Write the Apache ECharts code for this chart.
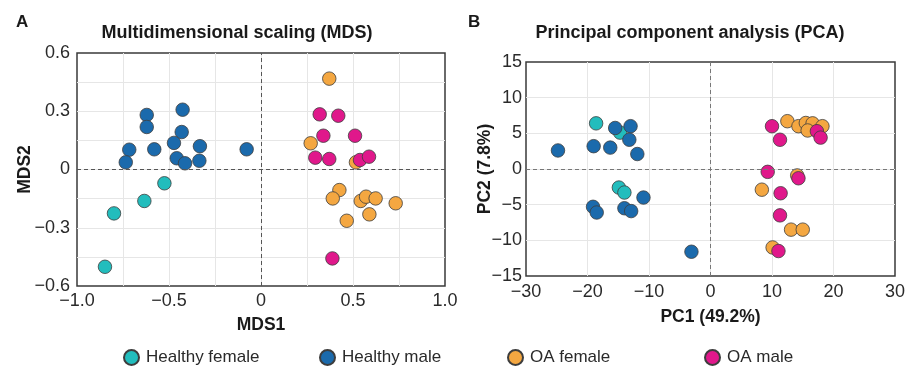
<!DOCTYPE html>
<html>
<head>
<meta charset="utf-8">
<script src="https://cdn.jsdelivr.net/npm/echarts@6/dist/echarts.min.js"></script>
<style>
html,body{margin:0;padding:0;background:#fff;}
#chart{width:910px;height:369px;}
</style>
</head>
<body>
<div id="chart"></div>
<script>
// ---- Data ----
var groupNames = ['Healthy female', 'Healthy male', 'OA female', 'OA male'];
var groupColors = ['#22bdbd', '#1b6aac', '#f4a741', '#e0188b'];

// Panel A: MDS [MDS1, MDS2]
var mdsHealthyFemale = [[-0.525,-0.071],[-0.634,-0.162],[-0.799,-0.226],[-0.848,-0.501]];
var mdsHealthyMale = [[-0.621,0.281],[-0.621,0.219],[-0.426,0.308],[-0.431,0.193],[-0.473,0.137],
  [-0.332,0.120],[-0.716,0.102],[-0.580,0.104],[-0.078,0.104],[-0.735,0.037],[-0.458,0.058],
  [-0.413,0.032],[-0.335,0.045]];
var mdsOAFemale = [[0.371,0.468],[0.270,0.135],[0.516,0.037],[0.426,-0.106],[0.390,-0.149],
  [0.542,-0.162],[0.571,-0.140],[0.623,-0.149],[0.732,-0.174],[0.466,-0.264],[0.589,-0.231]];
var mdsOAMale = [[0.319,0.284],[0.420,0.277],[0.339,0.174],[0.511,0.174],[0.295,0.061],
  [0.371,0.054],[0.538,0.049],[0.587,0.066],[0.388,-0.458]];

// Panel B: PCA [PC1, PC2]
var pcaHealthyFemale = [[-18.6,6.4],[-14.7,5.1],[-14.9,-2.6],[-14.0,-3.3]];
var pcaHealthyMale = [[-15.5,5.75],[-13.0,6.0],[-13.2,4.1],[-24.8,2.6],[-19.0,3.2],[-16.3,3.0],
  [-11.9,2.1],[-10.9,-4.0],[-19.1,-5.3],[-18.5,-6.1],[-14.0,-5.5],[-12.9,-5.9],[-3.1,-11.6]];
var pcaOAFemale = [[12.5,6.7],[14.3,6.0],[15.5,6.45],[16.6,6.4],[18.2,6.0],[15.8,5.4],
  [14.1,-0.9],[8.35,-2.9],[13.1,-8.5],[15.0,-8.5],[10.1,-11.0]];
var pcaOAMale = [[10.0,6.0],[11.3,4.1],[17.3,5.3],[17.9,4.4],[9.3,-0.4],[14.3,-1.3],
  [11.4,-3.4],[11.3,-6.5],[11.05,-11.5]];

// Axis settings / labels
var mdsXRange = [-1.0, 1.0], mdsXStep = 0.25, mdsXLabelStep = 0.5;
var mdsYRange = [-0.6, 0.6], mdsYStep = 0.15, mdsYLabelStep = 0.3;
var pcaXRange = [-30, 30], pcaXStep = 10;
var pcaYRange = [-15, 15], pcaYStep = 5;
var titles = ['Multidimensional scaling (MDS)', 'Principal component analysis (PCA)'];
var panelLetters = ['A', 'B'];
var axisNames = ['MDS1', 'MDS2', 'PC1 (49.2%)', 'PC2 (7.8%)'];

// ---- Chart ----
var FONT = "'Liberation Sans', Arial, Helvetica, sans-serif";
var MINUS = '\u2212';

function fmtStep(step, decimals) {
  return function (v) {
    var r = v / step;
    if (Math.abs(r - Math.round(r)) > 1e-6) return '';
    if (Math.abs(v) < 1e-9) return '0';
    var s = decimals ? Math.abs(v).toFixed(decimals) : String(Math.abs(Math.round(v)));
    return (v < 0 ? MINUS : '') + s;
  };
}

function valueAxis(idx, range, step, labelFmt, name, nameGap, labelMargin) {
  return {
    type: 'value', gridIndex: idx, min: range[0], max: range[1], interval: step,
    name: name, nameLocation: 'middle', nameGap: nameGap, nameMoveOverlap: false,
    nameTextStyle: { fontFamily: FONT, fontSize: 17.5, fontWeight: 'bold', color: '#1a1a1a' },
    axisLine: { show: false }, axisTick: { show: false },
    axisLabel: { formatter: labelFmt, fontFamily: FONT, fontSize: 18, color: '#2a2a2a', margin: labelMargin,
                 showMinLabel: true, showMaxLabel: true },
    splitLine: { show: true, showMinLine: false, showMaxLine: false, lineStyle: { color: '#e6e6e6', width: 1 } }
  };
}

var dataA = [mdsHealthyFemale, mdsHealthyMale, mdsOAFemale, mdsOAMale];
var dataB = [pcaHealthyFemale, pcaHealthyMale, pcaOAFemale, pcaOAMale];

var series = [];
[dataA, dataB].forEach(function (set, p) {
  set.forEach(function (d, i) {
    var s = {
      type: 'scatter', name: groupNames[i], xAxisIndex: p, yAxisIndex: p,
      data: d, symbol: 'circle', symbolSize: 13.5,
      itemStyle: { color: groupColors[i], borderColor: '#3d3d3d', borderWidth: 0.8, opacity: 1 },
      emphasis: { disabled: true }
    };
    if (i === 0) {
      s.markLine = {
        silent: true, symbol: ['none', 'none'], label: { show: false },
        lineStyle: { type: [4, 3], color: p === 0 ? '#555' : '#777', width: 1 },
        data: [{ xAxis: 0 }, { yAxis: 0 }]
      };
    }
    series.push(s);
  });
});

var legendPos = [123, 319, 507, 704];
var legends = groupNames.map(function (n, i) {
  return {
    data: [n], left: legendPos[i], top: 349, padding: 0, itemWidth: 15, itemHeight: 15, itemGap: 0,
    icon: 'circle',
    textStyle: { fontFamily: FONT, fontSize: 17, color: '#2a2a2a', padding: [0, 0, 0, 2] },
    selectedMode: false
  };
});

var option = {
  animation: false,
  backgroundColor: '#ffffff',
  grid: [
    { left: 77, top: 53, width: 368, height: 233, show: true, borderColor: '#3a3a3a', borderWidth: 1.5, backgroundColor: 'transparent' },
    { left: 526, top: 62, width: 369, height: 214, show: true, borderColor: '#3a3a3a', borderWidth: 1.5, backgroundColor: 'transparent' }
  ],
  xAxis: [
    valueAxis(0, mdsXRange, mdsXStep, fmtStep(mdsXLabelStep, 1), axisNames[0], 30, 6),
    valueAxis(1, pcaXRange, pcaXStep, fmtStep(pcaXStep, 0), axisNames[2], 32, 7)
  ],
  yAxis: [
    valueAxis(0, mdsYRange, mdsYStep, fmtStep(mdsYLabelStep, 1), axisNames[1], 43, 7),
    valueAxis(1, pcaYRange, pcaYStep, fmtStep(pcaYStep, 0), axisNames[3], 32, 4)
  ],
  legend: legends,
  graphic: [
    { type: 'text', left: 16, top: 14, style: { text: panelLetters[0], font: 'bold 17px ' + FONT, fill: '#1a1a1a' } },
    { type: 'text', left: 468, top: 14, style: { text: panelLetters[1], font: 'bold 17px ' + FONT, fill: '#1a1a1a' } },
    { type: 'text', x: 237, y: 33, style: { text: titles[0], font: 'bold 18px ' + FONT, fill: '#1a1a1a', textAlign: 'center', textVerticalAlign: 'middle' } },
    { type: 'text', x: 690, y: 33, style: { text: titles[1], font: 'bold 18px ' + FONT, fill: '#1a1a1a', textAlign: 'center', textVerticalAlign: 'middle' } }
  ],
  series: series
};

var chart = echarts.init(document.getElementById('chart'), null, { renderer: 'canvas' });
chart.setOption(option);
</script>
</body>
</html>
